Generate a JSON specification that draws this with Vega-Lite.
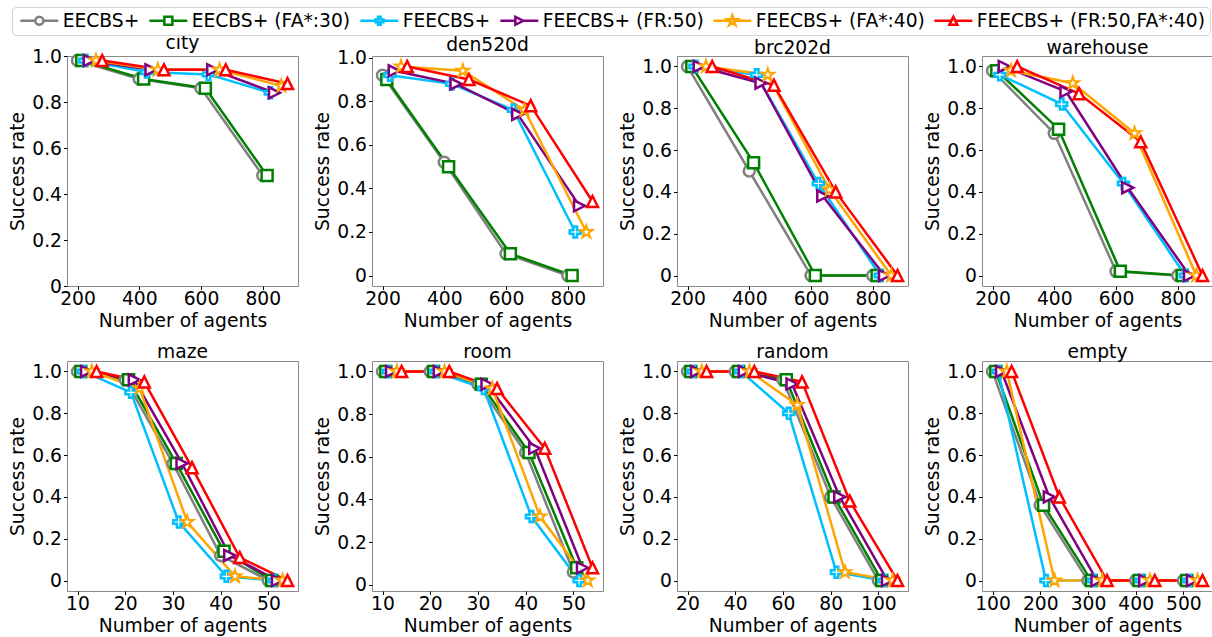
{
"$schema": "https://vega.github.io/schema/vega-lite/v6.json",
"padding": {"left": 8, "top": 6, "right": 0, "bottom": 0},
"columns": 4,
"bounds": "flush",
"spacing": {"row": 75, "column": 74},
"config": {
  "font": "DejaVu Sans",
  "view": {"stroke": "#8a8a8a", "strokeWidth": 1},
  "axis": {"domain": false, "grid": false, "labelFontSize": 18.7, "titleFontSize": 18.7, "labelColor": "black", "titleColor": "black", "tickColor": "black", "tickSize": 3.5, "labelPadding": 2, "titleFontWeight": "normal", "labelFlush": false, "labelOverlap": false, "titlePadding": 4},
  "axisX": {"labelPadding": 0, "titlePadding": 3},
  "title": {"fontSize": 18.7, "fontWeight": "normal", "offset": 1, "anchor": "middle", "color": "black", "frame": "group"},
  "point": {"filled": false, "fill": "white", "fillOpacity": 1, "strokeWidth": 2.5, "size": 121, "opacity": 1},
  "line": {"strokeWidth": 2.5}
},
"data": {"values": [
{"p":"city","s":"EECBS+","x":200,"y":0.98},{"p":"city","s":"EECBS+","x":400,"y":0.90},{"p":"city","s":"EECBS+","x":600,"y":0.86},{"p":"city","s":"EECBS+","x":800,"y":0.48},
{"p":"city","s":"EECBS+ (FA*:30)","x":214,"y":0.98},{"p":"city","s":"EECBS+ (FA*:30)","x":414,"y":0.90},{"p":"city","s":"EECBS+ (FA*:30)","x":614,"y":0.86},{"p":"city","s":"EECBS+ (FA*:30)","x":814,"y":0.48},
{"p":"city","s":"FEECBS+","x":224,"y":0.98},{"p":"city","s":"FEECBS+","x":424,"y":0.93},{"p":"city","s":"FEECBS+","x":624,"y":0.92},{"p":"city","s":"FEECBS+","x":824,"y":0.84},
{"p":"city","s":"FEECBS+ (FR:50)","x":238,"y":0.98},{"p":"city","s":"FEECBS+ (FR:50)","x":438,"y":0.94},{"p":"city","s":"FEECBS+ (FR:50)","x":638,"y":0.94},{"p":"city","s":"FEECBS+ (FR:50)","x":838,"y":0.84},
{"p":"city","s":"FEECBS+ (FA*:40)","x":260,"y":0.98},{"p":"city","s":"FEECBS+ (FA*:40)","x":460,"y":0.94},{"p":"city","s":"FEECBS+ (FA*:40)","x":660,"y":0.94},{"p":"city","s":"FEECBS+ (FA*:40)","x":860,"y":0.87},
{"p":"city","s":"FEECBS+ (FR:50,FA*:40)","x":280,"y":0.98},{"p":"city","s":"FEECBS+ (FR:50,FA*:40)","x":480,"y":0.94},{"p":"city","s":"FEECBS+ (FR:50,FA*:40)","x":680,"y":0.94},{"p":"city","s":"FEECBS+ (FR:50,FA*:40)","x":880,"y":0.88},

{"p":"den520d","s":"EECBS+","x":200,"y":0.92},{"p":"den520d","s":"EECBS+","x":400,"y":0.52},{"p":"den520d","s":"EECBS+","x":600,"y":0.10},{"p":"den520d","s":"EECBS+","x":800,"y":0.0},
{"p":"den520d","s":"EECBS+ (FA*:30)","x":214,"y":0.90},{"p":"den520d","s":"EECBS+ (FA*:30)","x":414,"y":0.50},{"p":"den520d","s":"EECBS+ (FA*:30)","x":614,"y":0.10},{"p":"den520d","s":"EECBS+ (FA*:30)","x":814,"y":0.0},
{"p":"den520d","s":"FEECBS+","x":224,"y":0.92},{"p":"den520d","s":"FEECBS+","x":424,"y":0.88},{"p":"den520d","s":"FEECBS+","x":624,"y":0.76},{"p":"den520d","s":"FEECBS+","x":824,"y":0.20},
{"p":"den520d","s":"FEECBS+ (FR:50)","x":238,"y":0.94},{"p":"den520d","s":"FEECBS+ (FR:50)","x":438,"y":0.88},{"p":"den520d","s":"FEECBS+ (FR:50)","x":638,"y":0.74},{"p":"den520d","s":"FEECBS+ (FR:50)","x":838,"y":0.32},
{"p":"den520d","s":"FEECBS+ (FA*:40)","x":260,"y":0.96},{"p":"den520d","s":"FEECBS+ (FA*:40)","x":460,"y":0.94},{"p":"den520d","s":"FEECBS+ (FA*:40)","x":660,"y":0.76},{"p":"den520d","s":"FEECBS+ (FA*:40)","x":860,"y":0.20},
{"p":"den520d","s":"FEECBS+ (FR:50,FA*:40)","x":280,"y":0.96},{"p":"den520d","s":"FEECBS+ (FR:50,FA*:40)","x":480,"y":0.90},{"p":"den520d","s":"FEECBS+ (FR:50,FA*:40)","x":680,"y":0.78},{"p":"den520d","s":"FEECBS+ (FR:50,FA*:40)","x":880,"y":0.34},

{"p":"brc202d","s":"EECBS+","x":200,"y":1.0},{"p":"brc202d","s":"EECBS+","x":400,"y":0.50},{"p":"brc202d","s":"EECBS+","x":600,"y":0.0},{"p":"brc202d","s":"EECBS+","x":800,"y":0.0},
{"p":"brc202d","s":"EECBS+ (FA*:30)","x":214,"y":1.0},{"p":"brc202d","s":"EECBS+ (FA*:30)","x":414,"y":0.54},{"p":"brc202d","s":"EECBS+ (FA*:30)","x":614,"y":0.0},{"p":"brc202d","s":"EECBS+ (FA*:30)","x":814,"y":0.0},
{"p":"brc202d","s":"FEECBS+","x":224,"y":1.0},{"p":"brc202d","s":"FEECBS+","x":424,"y":0.96},{"p":"brc202d","s":"FEECBS+","x":624,"y":0.44},{"p":"brc202d","s":"FEECBS+","x":824,"y":0.0},
{"p":"brc202d","s":"FEECBS+ (FR:50)","x":238,"y":1.0},{"p":"brc202d","s":"FEECBS+ (FR:50)","x":438,"y":0.92},{"p":"brc202d","s":"FEECBS+ (FR:50)","x":638,"y":0.38},{"p":"brc202d","s":"FEECBS+ (FR:50)","x":838,"y":0.0},
{"p":"brc202d","s":"FEECBS+ (FA*:40)","x":260,"y":1.0},{"p":"brc202d","s":"FEECBS+ (FA*:40)","x":460,"y":0.96},{"p":"brc202d","s":"FEECBS+ (FA*:40)","x":660,"y":0.41},{"p":"brc202d","s":"FEECBS+ (FA*:40)","x":860,"y":0.0},
{"p":"brc202d","s":"FEECBS+ (FR:50,FA*:40)","x":280,"y":1.0},{"p":"brc202d","s":"FEECBS+ (FR:50,FA*:40)","x":480,"y":0.91},{"p":"brc202d","s":"FEECBS+ (FR:50,FA*:40)","x":680,"y":0.40},{"p":"brc202d","s":"FEECBS+ (FR:50,FA*:40)","x":880,"y":0.0},

{"p":"warehouse","s":"EECBS+","x":200,"y":0.98},{"p":"warehouse","s":"EECBS+","x":400,"y":0.68},{"p":"warehouse","s":"EECBS+","x":600,"y":0.02},{"p":"warehouse","s":"EECBS+","x":800,"y":0.0},
{"p":"warehouse","s":"EECBS+ (FA*:30)","x":214,"y":0.98},{"p":"warehouse","s":"EECBS+ (FA*:30)","x":414,"y":0.70},{"p":"warehouse","s":"EECBS+ (FA*:30)","x":614,"y":0.02},{"p":"warehouse","s":"EECBS+ (FA*:30)","x":814,"y":0.0},
{"p":"warehouse","s":"FEECBS+","x":224,"y":0.96},{"p":"warehouse","s":"FEECBS+","x":424,"y":0.82},{"p":"warehouse","s":"FEECBS+","x":624,"y":0.44},{"p":"warehouse","s":"FEECBS+","x":824,"y":0.0},
{"p":"warehouse","s":"FEECBS+ (FR:50)","x":238,"y":1.0},{"p":"warehouse","s":"FEECBS+ (FR:50)","x":438,"y":0.88},{"p":"warehouse","s":"FEECBS+ (FR:50)","x":638,"y":0.42},{"p":"warehouse","s":"FEECBS+ (FR:50)","x":838,"y":0.0},
{"p":"warehouse","s":"FEECBS+ (FA*:40)","x":260,"y":0.98},{"p":"warehouse","s":"FEECBS+ (FA*:40)","x":460,"y":0.92},{"p":"warehouse","s":"FEECBS+ (FA*:40)","x":660,"y":0.68},{"p":"warehouse","s":"FEECBS+ (FA*:40)","x":860,"y":0.0},
{"p":"warehouse","s":"FEECBS+ (FR:50,FA*:40)","x":280,"y":1.0},{"p":"warehouse","s":"FEECBS+ (FR:50,FA*:40)","x":480,"y":0.87},{"p":"warehouse","s":"FEECBS+ (FR:50,FA*:40)","x":680,"y":0.64},{"p":"warehouse","s":"FEECBS+ (FR:50,FA*:40)","x":880,"y":0.0},

{"p":"maze","s":"EECBS+","x":10,"y":1.0},{"p":"maze","s":"EECBS+","x":20,"y":0.96},{"p":"maze","s":"EECBS+","x":30,"y":0.56},{"p":"maze","s":"EECBS+","x":40,"y":0.12},{"p":"maze","s":"EECBS+","x":50,"y":0.0},
{"p":"maze","s":"EECBS+ (FA*:30)","x":10.7,"y":1.0},{"p":"maze","s":"EECBS+ (FA*:30)","x":20.7,"y":0.96},{"p":"maze","s":"EECBS+ (FA*:30)","x":30.7,"y":0.56},{"p":"maze","s":"EECBS+ (FA*:30)","x":40.7,"y":0.14},{"p":"maze","s":"EECBS+ (FA*:30)","x":50.7,"y":0.0},
{"p":"maze","s":"FEECBS+","x":11.2,"y":1.0},{"p":"maze","s":"FEECBS+","x":21.2,"y":0.90},{"p":"maze","s":"FEECBS+","x":31.2,"y":0.28},{"p":"maze","s":"FEECBS+","x":41.2,"y":0.02},{"p":"maze","s":"FEECBS+","x":51.2,"y":0.0},
{"p":"maze","s":"FEECBS+ (FR:50)","x":11.9,"y":1.0},{"p":"maze","s":"FEECBS+ (FR:50)","x":21.9,"y":0.96},{"p":"maze","s":"FEECBS+ (FR:50)","x":31.9,"y":0.56},{"p":"maze","s":"FEECBS+ (FR:50)","x":41.9,"y":0.12},{"p":"maze","s":"FEECBS+ (FR:50)","x":51.9,"y":0.0},
{"p":"maze","s":"FEECBS+ (FA*:40)","x":13,"y":1.0},{"p":"maze","s":"FEECBS+ (FA*:40)","x":23,"y":0.92},{"p":"maze","s":"FEECBS+ (FA*:40)","x":33,"y":0.28},{"p":"maze","s":"FEECBS+ (FA*:40)","x":43,"y":0.02},{"p":"maze","s":"FEECBS+ (FA*:40)","x":53,"y":0.0},
{"p":"maze","s":"FEECBS+ (FR:50,FA*:40)","x":14,"y":1.0},{"p":"maze","s":"FEECBS+ (FR:50,FA*:40)","x":24,"y":0.95},{"p":"maze","s":"FEECBS+ (FR:50,FA*:40)","x":34,"y":0.54},{"p":"maze","s":"FEECBS+ (FR:50,FA*:40)","x":44,"y":0.11},{"p":"maze","s":"FEECBS+ (FR:50,FA*:40)","x":54,"y":0.0},

{"p":"room","s":"EECBS+","x":10,"y":1.0},{"p":"room","s":"EECBS+","x":20,"y":1.0},{"p":"room","s":"EECBS+","x":30,"y":0.94},{"p":"room","s":"EECBS+","x":40,"y":0.62},{"p":"room","s":"EECBS+","x":50,"y":0.06},
{"p":"room","s":"EECBS+ (FA*:30)","x":10.7,"y":1.0},{"p":"room","s":"EECBS+ (FA*:30)","x":20.7,"y":1.0},{"p":"room","s":"EECBS+ (FA*:30)","x":30.7,"y":0.94},{"p":"room","s":"EECBS+ (FA*:30)","x":40.7,"y":0.62},{"p":"room","s":"EECBS+ (FA*:30)","x":50.7,"y":0.08},
{"p":"room","s":"FEECBS+","x":11.2,"y":1.0},{"p":"room","s":"FEECBS+","x":21.2,"y":1.0},{"p":"room","s":"FEECBS+","x":31.2,"y":0.92},{"p":"room","s":"FEECBS+","x":41.2,"y":0.32},{"p":"room","s":"FEECBS+","x":51.2,"y":0.02},
{"p":"room","s":"FEECBS+ (FR:50)","x":11.9,"y":1.0},{"p":"room","s":"FEECBS+ (FR:50)","x":21.9,"y":1.0},{"p":"room","s":"FEECBS+ (FR:50)","x":31.9,"y":0.94},{"p":"room","s":"FEECBS+ (FR:50)","x":41.9,"y":0.64},{"p":"room","s":"FEECBS+ (FR:50)","x":51.9,"y":0.08},
{"p":"room","s":"FEECBS+ (FA*:40)","x":13,"y":1.0},{"p":"room","s":"FEECBS+ (FA*:40)","x":23,"y":1.0},{"p":"room","s":"FEECBS+ (FA*:40)","x":33,"y":0.92},{"p":"room","s":"FEECBS+ (FA*:40)","x":43,"y":0.32},{"p":"room","s":"FEECBS+ (FA*:40)","x":53,"y":0.02},
{"p":"room","s":"FEECBS+ (FR:50,FA*:40)","x":14,"y":1.0},{"p":"room","s":"FEECBS+ (FR:50,FA*:40)","x":24,"y":1.0},{"p":"room","s":"FEECBS+ (FR:50,FA*:40)","x":34,"y":0.92},{"p":"room","s":"FEECBS+ (FR:50,FA*:40)","x":44,"y":0.64},{"p":"room","s":"FEECBS+ (FR:50,FA*:40)","x":54,"y":0.08},

{"p":"random","s":"EECBS+","x":20,"y":1.0},{"p":"random","s":"EECBS+","x":40,"y":1.0},{"p":"random","s":"EECBS+","x":60,"y":0.96},{"p":"random","s":"EECBS+","x":80,"y":0.40},{"p":"random","s":"EECBS+","x":100,"y":0.0},
{"p":"random","s":"EECBS+ (FA*:30)","x":21.4,"y":1.0},{"p":"random","s":"EECBS+ (FA*:30)","x":41.4,"y":1.0},{"p":"random","s":"EECBS+ (FA*:30)","x":61.4,"y":0.96},{"p":"random","s":"EECBS+ (FA*:30)","x":81.4,"y":0.40},{"p":"random","s":"EECBS+ (FA*:30)","x":101.4,"y":0.0},
{"p":"random","s":"FEECBS+","x":22.4,"y":1.0},{"p":"random","s":"FEECBS+","x":42.4,"y":1.0},{"p":"random","s":"FEECBS+","x":62.4,"y":0.80},{"p":"random","s":"FEECBS+","x":82.4,"y":0.04},{"p":"random","s":"FEECBS+","x":102.4,"y":0.0},
{"p":"random","s":"FEECBS+ (FR:50)","x":23.8,"y":1.0},{"p":"random","s":"FEECBS+ (FR:50)","x":43.8,"y":1.0},{"p":"random","s":"FEECBS+ (FR:50)","x":63.8,"y":0.94},{"p":"random","s":"FEECBS+ (FR:50)","x":83.8,"y":0.40},{"p":"random","s":"FEECBS+ (FR:50)","x":103.8,"y":0.0},
{"p":"random","s":"FEECBS+ (FA*:40)","x":26,"y":1.0},{"p":"random","s":"FEECBS+ (FA*:40)","x":46,"y":1.0},{"p":"random","s":"FEECBS+ (FA*:40)","x":66,"y":0.84},{"p":"random","s":"FEECBS+ (FA*:40)","x":86,"y":0.04},{"p":"random","s":"FEECBS+ (FA*:40)","x":106,"y":0.0},
{"p":"random","s":"FEECBS+ (FR:50,FA*:40)","x":28,"y":1.0},{"p":"random","s":"FEECBS+ (FR:50,FA*:40)","x":48,"y":1.0},{"p":"random","s":"FEECBS+ (FR:50,FA*:40)","x":68,"y":0.95},{"p":"random","s":"FEECBS+ (FR:50,FA*:40)","x":88,"y":0.38},{"p":"random","s":"FEECBS+ (FR:50,FA*:40)","x":108,"y":0.0},

{"p":"empty","s":"EECBS+","x":100,"y":1.0},{"p":"empty","s":"EECBS+","x":200,"y":0.36},{"p":"empty","s":"EECBS+","x":300,"y":0.0},{"p":"empty","s":"EECBS+","x":400,"y":0.0},{"p":"empty","s":"EECBS+","x":500,"y":0.0},
{"p":"empty","s":"EECBS+ (FA*:30)","x":107,"y":1.0},{"p":"empty","s":"EECBS+ (FA*:30)","x":207,"y":0.36},{"p":"empty","s":"EECBS+ (FA*:30)","x":307,"y":0.0},{"p":"empty","s":"EECBS+ (FA*:30)","x":407,"y":0.0},{"p":"empty","s":"EECBS+ (FA*:30)","x":507,"y":0.0},
{"p":"empty","s":"FEECBS+","x":112,"y":1.0},{"p":"empty","s":"FEECBS+","x":212,"y":0.0},{"p":"empty","s":"FEECBS+","x":312,"y":0.0},{"p":"empty","s":"FEECBS+","x":412,"y":0.0},{"p":"empty","s":"FEECBS+","x":512,"y":0.0},
{"p":"empty","s":"FEECBS+ (FR:50)","x":119,"y":1.0},{"p":"empty","s":"FEECBS+ (FR:50)","x":219,"y":0.40},{"p":"empty","s":"FEECBS+ (FR:50)","x":319,"y":0.0},{"p":"empty","s":"FEECBS+ (FR:50)","x":419,"y":0.0},{"p":"empty","s":"FEECBS+ (FR:50)","x":519,"y":0.0},
{"p":"empty","s":"FEECBS+ (FA*:40)","x":130,"y":1.0},{"p":"empty","s":"FEECBS+ (FA*:40)","x":230,"y":0.0},{"p":"empty","s":"FEECBS+ (FA*:40)","x":330,"y":0.0},{"p":"empty","s":"FEECBS+ (FA*:40)","x":430,"y":0.0},{"p":"empty","s":"FEECBS+ (FA*:40)","x":530,"y":0.0},
{"p":"empty","s":"FEECBS+ (FR:50,FA*:40)","x":140,"y":1.0},{"p":"empty","s":"FEECBS+ (FR:50,FA*:40)","x":240,"y":0.40},{"p":"empty","s":"FEECBS+ (FR:50,FA*:40)","x":340,"y":0.0},{"p":"empty","s":"FEECBS+ (FR:50,FA*:40)","x":440,"y":0.0},{"p":"empty","s":"FEECBS+ (FR:50,FA*:40)","x":540,"y":0.0}
]},
"concat": [
{"title": {"text": "city", "frame": "group", "offset": 1, "dy": 7}, "width": 231, "height": 230, "transform": [{"filter": "datum.p === 'city'"}],
 "encoding": {
  "x": {"field": "x", "type": "quantitative", "scale": {"domain": [166, 914], "nice": false, "zero": false}, "axis": {"values": [200,400,600,800], "title": "Number of agents"}},
  "y": {"field": "y", "type": "quantitative", "scale": {"domain": [0, 1], "nice": false, "zero": false}, "axis": {"values": [0,0.2,0.4,0.6,0.8,1.0], "labelExpr": "datum.value === 0 ? '0' : format(datum.value, '.1f')", "title": "Success rate"}},
  "color": {"field": "s", "type": "nominal", "scale": {"domain": ["EECBS+","EECBS+ (FA*:30)","FEECBS+","FEECBS+ (FR:50)","FEECBS+ (FA*:40)","FEECBS+ (FR:50,FA*:40)"], "range": ["#808080","#008000","#00bfff","#800080","#ffa500","#ff0000"]},
    "legend": {"title": null, "orient": "none", "legendX": -55, "legendY": -49, "direction": "horizontal", "columns": 6, "symbolSize": 64, "symbolStrokeWidth": 2, "symbolFillColor": "white", "symbolOpacity": 1, "symbolOffset": 14, "labelOffset": 14, "labelFontSize": 18.7, "labelFont": "DejaVu Sans", "labelColor": "black", "labelLimit": 0, "columnPadding": 4, "padding": 4, "strokeColor": "#d4d4d4", "cornerRadius": 4, "fillColor": "white"}}
 },
 "layer": [
  {"mark": "line"},
  {"transform": [{"filter": "datum.s === 'EECBS+'"}], "mark": {"type": "point", "shape": "circle"}},
  {"transform": [{"filter": "datum.s === 'EECBS+ (FA*:30)'"}], "mark": {"type": "point", "shape": "square"}},
  {"transform": [{"filter": "datum.s === 'FEECBS+'"}], "mark": {"type": "point", "shape": "M-0.33,-1H0.33V-0.33H1V0.33H0.33V1H-0.33V0.33H-1V-0.33H-0.33Z"}},
  {"transform": [{"filter": "datum.s === 'FEECBS+ (FR:50)'"}], "mark": {"type": "point", "shape": "M1,0L-1,-1L-1,1Z"}},
  {"transform": [{"filter": "datum.s === 'FEECBS+ (FA*:40)'"}], "mark": {"type": "point", "size": 170, "strokeWidth": 2, "shape": "M0,-1L0.225,-0.309L0.951,-0.309L0.363,0.118L0.588,0.809L0,0.382L-0.588,0.809L-0.363,0.118L-0.951,-0.309L-0.225,-0.309Z"}},
  {"transform": [{"filter": "datum.s === 'FEECBS+ (FR:50,FA*:40)'"}], "mark": {"type": "point", "shape": "M0,-1L1,1L-1,1Z"}},
  {"transform": [{"filter": "datum.s === 'none'"}], "mark": {"type": "point", "strokeWidth": 2, "size": 64},
   "encoding": {"shape": {"field": "s", "type": "nominal", "scale": {"domain": ["EECBS+","EECBS+ (FA*:30)","FEECBS+","FEECBS+ (FR:50)","FEECBS+ (FA*:40)","FEECBS+ (FR:50,FA*:40)"], "range": ["M-4.75,0H-1M1,0H4.75M1,0A1,1,0,1,1,-1,0A1,1,0,1,1,1,0Z","M-4.75,0H-1M1,0H4.75M-1,-1H1V1H-1Z","M-4.75,0H-1M1,0H4.75M-0.33,-1H0.33V-0.33H1V0.33H0.33V1H-0.33V0.33H-1V-0.33H-0.33Z","M-4.75,0H-1M1,0H4.75M-1,-1L1,0L-1,1Z","M-4.75,0H-0.7M0.7,0H4.75M0,-1.3L0.293,-0.402L1.236,-0.402L0.472,0.153L0.764,1.052L0,0.497L-0.764,1.052L-0.472,0.153L-1.236,-0.402L-0.293,-0.402Z","M-4.75,0H-0.5M0.5,0H4.75M0,-1L1,1L-1,1Z"]},
     "legend": {"title": null, "orient": "none", "legendX": -55, "legendY": -49, "direction": "horizontal", "columns": 6, "symbolSize": 64, "symbolStrokeWidth": 2, "symbolFillColor": "white", "symbolOpacity": 1, "symbolOffset": 14, "labelOffset": 14, "labelFontSize": 18.7, "labelFont": "DejaVu Sans", "labelColor": "black", "labelLimit": 0, "columnPadding": 4, "padding": 4, "strokeColor": "#d4d4d4", "cornerRadius": 4, "fillColor": "white"}}}}
 ]},
{"title": {"text": "den520d", "frame": "group", "offset": 1, "dy": 7}, "width": 231, "height": 230, "transform": [{"filter": "datum.p === 'den520d'"}],
 "encoding": {
  "x": {"field": "x", "type": "quantitative", "scale": {"domain": [166, 914], "nice": false, "zero": false}, "axis": {"values": [200,400,600,800], "title": "Number of agents"}},
  "y": {"field": "y", "type": "quantitative", "scale": {"domain": [-0.048, 1.008], "nice": false, "zero": false}, "axis": {"values": [0,0.2,0.4,0.6,0.8,1.0], "labelExpr": "datum.value === 0 ? '0' : format(datum.value, '.1f')", "title": "Success rate"}},
  "color": {"field": "s", "type": "nominal"}
 },
 "layer": [
  {"mark": "line"},
  {"transform": [{"filter": "datum.s === 'EECBS+'"}], "mark": {"type": "point", "shape": "circle"}},
  {"transform": [{"filter": "datum.s === 'EECBS+ (FA*:30)'"}], "mark": {"type": "point", "shape": "square"}},
  {"transform": [{"filter": "datum.s === 'FEECBS+'"}], "mark": {"type": "point", "shape": "M-0.33,-1H0.33V-0.33H1V0.33H0.33V1H-0.33V0.33H-1V-0.33H-0.33Z"}},
  {"transform": [{"filter": "datum.s === 'FEECBS+ (FR:50)'"}], "mark": {"type": "point", "shape": "M1,0L-1,-1L-1,1Z"}},
  {"transform": [{"filter": "datum.s === 'FEECBS+ (FA*:40)'"}], "mark": {"type": "point", "size": 170, "strokeWidth": 2, "shape": "M0,-1L0.225,-0.309L0.951,-0.309L0.363,0.118L0.588,0.809L0,0.382L-0.588,0.809L-0.363,0.118L-0.951,-0.309L-0.225,-0.309Z"}},
  {"transform": [{"filter": "datum.s === 'FEECBS+ (FR:50,FA*:40)'"}], "mark": {"type": "point", "shape": "M0,-1L1,1L-1,1Z"}}
 ]},
{"title": {"text": "brc202d", "frame": "group", "offset": 1, "dy": 3}, "width": 231, "height": 230, "transform": [{"filter": "datum.p === 'brc202d'"}],
 "encoding": {
  "x": {"field": "x", "type": "quantitative", "scale": {"domain": [166, 914], "nice": false, "zero": false}, "axis": {"values": [200,400,600,800], "title": "Number of agents"}},
  "y": {"field": "y", "type": "quantitative", "scale": {"domain": [-0.05, 1.05], "nice": false, "zero": false}, "axis": {"values": [0,0.2,0.4,0.6,0.8,1.0], "labelExpr": "datum.value === 0 ? '0' : format(datum.value, '.1f')", "title": "Success rate"}},
  "color": {"field": "s", "type": "nominal"}
 },
 "layer": [
  {"mark": "line"},
  {"transform": [{"filter": "datum.s === 'EECBS+'"}], "mark": {"type": "point", "shape": "circle"}},
  {"transform": [{"filter": "datum.s === 'EECBS+ (FA*:30)'"}], "mark": {"type": "point", "shape": "square"}},
  {"transform": [{"filter": "datum.s === 'FEECBS+'"}], "mark": {"type": "point", "shape": "M-0.33,-1H0.33V-0.33H1V0.33H0.33V1H-0.33V0.33H-1V-0.33H-0.33Z"}},
  {"transform": [{"filter": "datum.s === 'FEECBS+ (FR:50)'"}], "mark": {"type": "point", "shape": "M1,0L-1,-1L-1,1Z"}},
  {"transform": [{"filter": "datum.s === 'FEECBS+ (FA*:40)'"}], "mark": {"type": "point", "size": 170, "strokeWidth": 2, "shape": "M0,-1L0.225,-0.309L0.951,-0.309L0.363,0.118L0.588,0.809L0,0.382L-0.588,0.809L-0.363,0.118L-0.951,-0.309L-0.225,-0.309Z"}},
  {"transform": [{"filter": "datum.s === 'FEECBS+ (FR:50,FA*:40)'"}], "mark": {"type": "point", "shape": "M0,-1L1,1L-1,1Z"}}
 ]},
{"title": {"text": "warehouse", "frame": "group", "offset": 1, "dy": 3}, "width": 231, "height": 230, "transform": [{"filter": "datum.p === 'warehouse'"}],
 "encoding": {
  "x": {"field": "x", "type": "quantitative", "scale": {"domain": [166, 914], "nice": false, "zero": false}, "axis": {"values": [200,400,600,800], "title": "Number of agents"}},
  "y": {"field": "y", "type": "quantitative", "scale": {"domain": [-0.05, 1.05], "nice": false, "zero": false}, "axis": {"values": [0,0.2,0.4,0.6,0.8,1.0], "labelExpr": "datum.value === 0 ? '0' : format(datum.value, '.1f')", "title": "Success rate"}},
  "color": {"field": "s", "type": "nominal"}
 },
 "layer": [
  {"mark": "line"},
  {"transform": [{"filter": "datum.s === 'EECBS+'"}], "mark": {"type": "point", "shape": "circle"}},
  {"transform": [{"filter": "datum.s === 'EECBS+ (FA*:30)'"}], "mark": {"type": "point", "shape": "square"}},
  {"transform": [{"filter": "datum.s === 'FEECBS+'"}], "mark": {"type": "point", "shape": "M-0.33,-1H0.33V-0.33H1V0.33H0.33V1H-0.33V0.33H-1V-0.33H-0.33Z"}},
  {"transform": [{"filter": "datum.s === 'FEECBS+ (FR:50)'"}], "mark": {"type": "point", "shape": "M1,0L-1,-1L-1,1Z"}},
  {"transform": [{"filter": "datum.s === 'FEECBS+ (FA*:40)'"}], "mark": {"type": "point", "size": 170, "strokeWidth": 2, "shape": "M0,-1L0.225,-0.309L0.951,-0.309L0.363,0.118L0.588,0.809L0,0.382L-0.588,0.809L-0.363,0.118L-0.951,-0.309L-0.225,-0.309Z"}},
  {"transform": [{"filter": "datum.s === 'FEECBS+ (FR:50,FA*:40)'"}], "mark": {"type": "point", "shape": "M0,-1L1,1L-1,1Z"}}
 ]},
{"title": {"text": "maze", "frame": "group", "offset": 1, "dy": 2}, "width": 231, "height": 230, "transform": [{"filter": "datum.p === 'maze'"}],
 "encoding": {
  "x": {"field": "x", "type": "quantitative", "scale": {"domain": [7.8, 56.2], "nice": false, "zero": false}, "axis": {"values": [10,20,30,40,50], "title": "Number of agents"}},
  "y": {"field": "y", "type": "quantitative", "scale": {"domain": [-0.05, 1.05], "nice": false, "zero": false}, "axis": {"values": [0,0.2,0.4,0.6,0.8,1.0], "labelExpr": "datum.value === 0 ? '0' : format(datum.value, '.1f')", "title": "Success rate"}},
  "color": {"field": "s", "type": "nominal"}
 },
 "layer": [
  {"mark": "line"},
  {"transform": [{"filter": "datum.s === 'EECBS+'"}], "mark": {"type": "point", "shape": "circle"}},
  {"transform": [{"filter": "datum.s === 'EECBS+ (FA*:30)'"}], "mark": {"type": "point", "shape": "square"}},
  {"transform": [{"filter": "datum.s === 'FEECBS+'"}], "mark": {"type": "point", "shape": "M-0.33,-1H0.33V-0.33H1V0.33H0.33V1H-0.33V0.33H-1V-0.33H-0.33Z"}},
  {"transform": [{"filter": "datum.s === 'FEECBS+ (FR:50)'"}], "mark": {"type": "point", "shape": "M1,0L-1,-1L-1,1Z"}},
  {"transform": [{"filter": "datum.s === 'FEECBS+ (FA*:40)'"}], "mark": {"type": "point", "size": 170, "strokeWidth": 2, "shape": "M0,-1L0.225,-0.309L0.951,-0.309L0.363,0.118L0.588,0.809L0,0.382L-0.588,0.809L-0.363,0.118L-0.951,-0.309L-0.225,-0.309Z"}},
  {"transform": [{"filter": "datum.s === 'FEECBS+ (FR:50,FA*:40)'"}], "mark": {"type": "point", "shape": "M0,-1L1,1L-1,1Z"}}
 ]},
{"title": {"text": "room", "frame": "group", "offset": 1, "dy": 2}, "width": 231, "height": 230, "transform": [{"filter": "datum.p === 'room'"}],
 "encoding": {
  "x": {"field": "x", "type": "quantitative", "scale": {"domain": [7.8, 56.2], "nice": false, "zero": false}, "axis": {"values": [10,20,30,40,50], "title": "Number of agents"}},
  "y": {"field": "y", "type": "quantitative", "scale": {"domain": [-0.029, 1.049], "nice": false, "zero": false}, "axis": {"values": [0,0.2,0.4,0.6,0.8,1.0], "labelExpr": "datum.value === 0 ? '0' : format(datum.value, '.1f')", "title": "Success rate"}},
  "color": {"field": "s", "type": "nominal"}
 },
 "layer": [
  {"mark": "line"},
  {"transform": [{"filter": "datum.s === 'EECBS+'"}], "mark": {"type": "point", "shape": "circle"}},
  {"transform": [{"filter": "datum.s === 'EECBS+ (FA*:30)'"}], "mark": {"type": "point", "shape": "square"}},
  {"transform": [{"filter": "datum.s === 'FEECBS+'"}], "mark": {"type": "point", "shape": "M-0.33,-1H0.33V-0.33H1V0.33H0.33V1H-0.33V0.33H-1V-0.33H-0.33Z"}},
  {"transform": [{"filter": "datum.s === 'FEECBS+ (FR:50)'"}], "mark": {"type": "point", "shape": "M1,0L-1,-1L-1,1Z"}},
  {"transform": [{"filter": "datum.s === 'FEECBS+ (FA*:40)'"}], "mark": {"type": "point", "size": 170, "strokeWidth": 2, "shape": "M0,-1L0.225,-0.309L0.951,-0.309L0.363,0.118L0.588,0.809L0,0.382L-0.588,0.809L-0.363,0.118L-0.951,-0.309L-0.225,-0.309Z"}},
  {"transform": [{"filter": "datum.s === 'FEECBS+ (FR:50,FA*:40)'"}], "mark": {"type": "point", "shape": "M0,-1L1,1L-1,1Z"}}
 ]},
{"title": {"text": "random", "frame": "group", "offset": 1, "dy": 2}, "width": 231, "height": 230, "transform": [{"filter": "datum.p === 'random'"}],
 "encoding": {
  "x": {"field": "x", "type": "quantitative", "scale": {"domain": [15.6, 112.4], "nice": false, "zero": false}, "axis": {"values": [20,40,60,80,100], "title": "Number of agents"}},
  "y": {"field": "y", "type": "quantitative", "scale": {"domain": [-0.05, 1.05], "nice": false, "zero": false}, "axis": {"values": [0,0.2,0.4,0.6,0.8,1.0], "labelExpr": "datum.value === 0 ? '0' : format(datum.value, '.1f')", "title": "Success rate"}},
  "color": {"field": "s", "type": "nominal"}
 },
 "layer": [
  {"mark": "line"},
  {"transform": [{"filter": "datum.s === 'EECBS+'"}], "mark": {"type": "point", "shape": "circle"}},
  {"transform": [{"filter": "datum.s === 'EECBS+ (FA*:30)'"}], "mark": {"type": "point", "shape": "square"}},
  {"transform": [{"filter": "datum.s === 'FEECBS+'"}], "mark": {"type": "point", "shape": "M-0.33,-1H0.33V-0.33H1V0.33H0.33V1H-0.33V0.33H-1V-0.33H-0.33Z"}},
  {"transform": [{"filter": "datum.s === 'FEECBS+ (FR:50)'"}], "mark": {"type": "point", "shape": "M1,0L-1,-1L-1,1Z"}},
  {"transform": [{"filter": "datum.s === 'FEECBS+ (FA*:40)'"}], "mark": {"type": "point", "size": 170, "strokeWidth": 2, "shape": "M0,-1L0.225,-0.309L0.951,-0.309L0.363,0.118L0.588,0.809L0,0.382L-0.588,0.809L-0.363,0.118L-0.951,-0.309L-0.225,-0.309Z"}},
  {"transform": [{"filter": "datum.s === 'FEECBS+ (FR:50,FA*:40)'"}], "mark": {"type": "point", "shape": "M0,-1L1,1L-1,1Z"}}
 ]},
{"title": {"text": "empty", "frame": "group", "offset": 1, "dy": 2}, "width": 231, "height": 230, "transform": [{"filter": "datum.p === 'empty'"}],
 "encoding": {
  "x": {"field": "x", "type": "quantitative", "scale": {"domain": [78, 562], "nice": false, "zero": false}, "axis": {"values": [100,200,300,400,500], "title": "Number of agents"}},
  "y": {"field": "y", "type": "quantitative", "scale": {"domain": [-0.05, 1.05], "nice": false, "zero": false}, "axis": {"values": [0,0.2,0.4,0.6,0.8,1.0], "labelExpr": "datum.value === 0 ? '0' : format(datum.value, '.1f')", "title": "Success rate"}},
  "color": {"field": "s", "type": "nominal"}
 },
 "layer": [
  {"mark": "line"},
  {"transform": [{"filter": "datum.s === 'EECBS+'"}], "mark": {"type": "point", "shape": "circle"}},
  {"transform": [{"filter": "datum.s === 'EECBS+ (FA*:30)'"}], "mark": {"type": "point", "shape": "square"}},
  {"transform": [{"filter": "datum.s === 'FEECBS+'"}], "mark": {"type": "point", "shape": "M-0.33,-1H0.33V-0.33H1V0.33H0.33V1H-0.33V0.33H-1V-0.33H-0.33Z"}},
  {"transform": [{"filter": "datum.s === 'FEECBS+ (FR:50)'"}], "mark": {"type": "point", "shape": "M1,0L-1,-1L-1,1Z"}},
  {"transform": [{"filter": "datum.s === 'FEECBS+ (FA*:40)'"}], "mark": {"type": "point", "size": 170, "strokeWidth": 2, "shape": "M0,-1L0.225,-0.309L0.951,-0.309L0.363,0.118L0.588,0.809L0,0.382L-0.588,0.809L-0.363,0.118L-0.951,-0.309L-0.225,-0.309Z"}},
  {"transform": [{"filter": "datum.s === 'FEECBS+ (FR:50,FA*:40)'"}], "mark": {"type": "point", "shape": "M0,-1L1,1L-1,1Z"}}
 ]}
]
}
